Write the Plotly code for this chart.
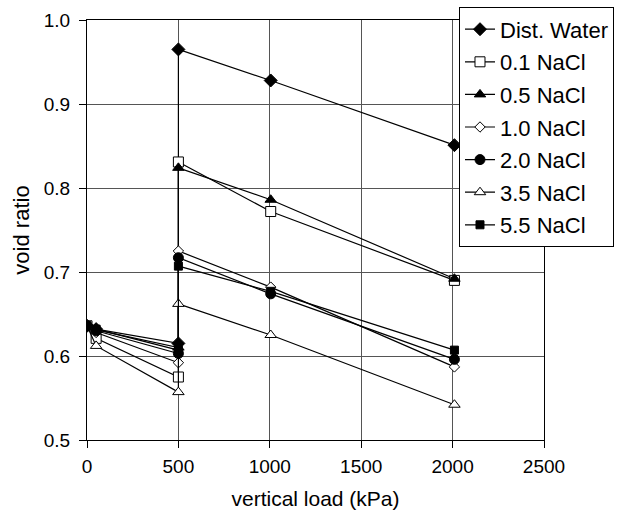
import plotly.graph_objects as go

load = [0, 50, 500, 500, 1005, 2010]

series_names = ["Dist. Water", "0.1 NaCl", "0.5 NaCl", "1.0 NaCl", "2.0 NaCl", "3.5 NaCl", "5.5 NaCl"]
dist_water = [0.636, 0.632, 0.615, 0.965, 0.928, 0.851]
nacl_01 = [0.636, 0.621, 0.575, 0.831, 0.772, 0.690]
nacl_05 = [0.636, 0.631, 0.610, 0.824, 0.786, 0.692]
nacl_10 = [0.636, 0.628, 0.592, 0.725, 0.682, 0.587]
nacl_20 = [0.636, 0.630, 0.603, 0.717, 0.674, 0.596]
nacl_35 = [0.636, 0.612, 0.557, 0.662, 0.625, 0.542]
nacl_55 = [0.636, 0.632, 0.607, 0.707, 0.677, 0.607]

values = [dist_water, nacl_01, nacl_05, nacl_10, nacl_20, nacl_35, nacl_55]
symbols = ["diamond", "square", "triangle-up", "diamond", "circle", "triangle-up", "square"]
fills = ["black", "white", "black", "white", "black", "white", "black"]
sizes = [10, 10, 10, 8, 10, 10, 8]

fig = go.Figure()
for i, (name, vals) in enumerate(zip(series_names, values)):
    fig.add_trace(go.Scatter(
        x=load, y=vals, name=name, mode="lines+markers",
        legendgroup=name,
        line=dict(color="black", width=1.2),
        marker=dict(symbol=symbols[i], color=fills[i], size=sizes[i],
                    line=dict(color="black", width=1)),
    ))

fam = "Liberation Sans, Arial, sans-serif"
fig.update_layout(
    width=622, height=510,
    margin=dict(l=87, r=78, t=20, b=70, autoexpand=False),
    paper_bgcolor="white", plot_bgcolor="white",
    font=dict(family=fam, size=19, color="black"),
    showlegend=True,
    legend=dict(x=0.814, y=1.03, xanchor="left", yanchor="top",
                bordercolor="black", borderwidth=1, bgcolor="white",
                font=dict(family=fam, size=22, color="black"),
                tracegroupgap=1, itemwidth=30),
    xaxis=dict(range=[0, 2500], tickvals=[0, 500, 1000, 1500, 2000, 2500],
               showgrid=True, gridcolor="#555555", gridwidth=1,
               showline=True, linecolor="black", linewidth=1, mirror=True,
               ticks="outside", ticklen=7, tickcolor="black",
               ticklabelstandoff=2, automargin=False,
               zeroline=False,
               title=dict(text="vertical load (kPa)", standoff=16,
                          font=dict(family=fam, size=21, color="black"))),
    yaxis=dict(range=[0.5, 1.0], tickvals=[0.5, 0.6, 0.7, 0.8, 0.9, 1.0],
               tickformat=".1f",
               showgrid=True, gridcolor="#555555", gridwidth=1,
               showline=True, linecolor="black", linewidth=1, mirror=True,
               ticks="outside", ticklen=7, tickcolor="black",
               ticklabelstandoff=5, automargin=False,
               zeroline=False,
               title=dict(text="void ratio", standoff=8,
                          font=dict(family=fam, size=22, color="black"))),
)

fig.write_html("out.html")
